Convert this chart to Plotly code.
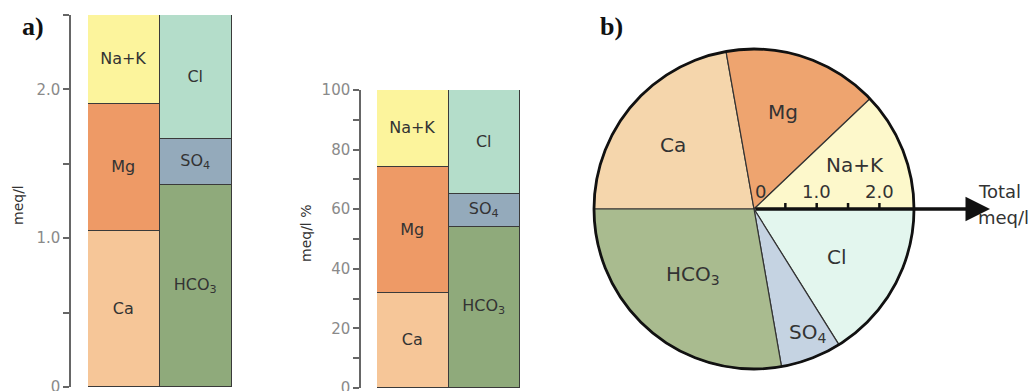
import plotly.graph_objects as go

W, H = 1035, 391
def px(x): return x / W
def py(y): return 1 - y / H

# ---------------- data ----------------
cation_names = ["Ca", "Mg", "Na+K"]
anion_names = ["HCO<sub>3</sub>", "SO<sub>4</sub>", "Cl"]
cation_meq = [1.05, 0.85, 0.60]
anion_meq = [1.36, 0.31, 0.83]
cation_pct = [32, 42, 26]
anion_pct = [54, 11, 35]
# pie: each half (cations top, anions bottom) read as shares of 100,
# listed clockwise starting at 9 o'clock
pie_names = ["Ca", "Mg", "Na+K", "Cl", "SO<sub>4</sub>", "HCO<sub>3</sub>"]
pie_values = [44.4, 31.4, 24.2, 32.2, 12.3, 55.5]
meq_ticks = [0, 0.5, 1.0, 1.5, 2.0, 2.5]
meq_ticktext = ["0", "", "1.0", "", "2.0", ""]
pct_ticks = [0, 10, 20, 30, 40, 50, 60, 70, 80, 90, 100]
pct_ticktext = ["0", "", "20", "", "40", "", "60", "", "80", "", "100"]
total_ticks = [0.5, 1.0, 1.5, 2.0]
total_label_vals = [0, 1.0, 2.0]
total_label_text = ["0", "1.0", "2.0"]

# ---------------- styles ----------------
bar_cat_colors = ["#f6c698", "#ee9a66", "#fcf49c"]
bar_an_colors = ["#8faa7b", "#94aabb", "#b4ddca"]
pie_colors = ["#f5d6ac", "#eea46f", "#fdf8cb", "#e3f6ee", "#c5d3e2", "#a9bb8f"]
FONT = "DejaVu Sans"
TXT = "#333333"
EDGE = "#3a3a3a"

fig = go.Figure()

def add_stack(names, vals, colors, xpos, xa, ya):
    for n, v, c in zip(names, vals, colors):
        fig.add_trace(go.Bar(
            x=[xpos], y=[v], width=1, text=[n], textposition="inside",
            insidetextanchor="middle", textangle=0,
            textfont=dict(family=FONT, size=16, color=TXT),
            marker=dict(color=c, line=dict(color=EDGE, width=1.5)),
            xaxis=xa, yaxis=ya, hoverinfo="skip", showlegend=False))

add_stack(cation_names, cation_meq, bar_cat_colors, 0, "x", "y")
add_stack(anion_names, anion_meq, bar_an_colors, 1, "x", "y")
add_stack(cation_names, cation_pct, bar_cat_colors, 0, "x2", "y2")
add_stack(anion_names, anion_pct, bar_an_colors, 1, "x2", "y2")

fig.add_trace(go.Pie(
    labels=pie_names, values=pie_values, sort=False, direction="clockwise",
    rotation=270, textinfo="none", hoverinfo="skip", automargin=False,
    marker=dict(colors=pie_colors, line=dict(color="#333333", width=1.2)),
    domain=dict(x=[px(594), px(914)], y=[py(369), py(49)]), showlegend=False))

# invisible trace to carry the "Total meq/l" axis
fig.add_trace(go.Scatter(x=[0], y=[0], mode="markers", marker=dict(opacity=0),
                         xaxis="x3", yaxis="y3", hoverinfo="skip", showlegend=False))

axis_common = dict(showgrid=False, zeroline=False, automargin=False)
yax_style = dict(showline=True, linecolor="#666", linewidth=1.5, ticks="outside", ticklen=6,
                 tickcolor="#666", tickwidth=1.5, ticklabeloverflow="allow",
                 tickfont=dict(family=FONT, size=15, color="#8a8a8a"))
fig.update_layout(
    width=W, height=H, margin=dict(l=0, r=0, t=0, b=0, pad=0, autoexpand=False),
    paper_bgcolor="white", plot_bgcolor="rgba(0,0,0,0)",
    barmode="stack", bargap=0, showlegend=False,
    xaxis=dict(domain=[px(88), px(232)], range=[-0.5, 1.5], visible=False, **axis_common),
    yaxis=dict(domain=[py(387), py(15)], range=[0, 2.5], anchor="free", position=px(70),
               tickvals=meq_ticks, ticktext=meq_ticktext, **yax_style, **axis_common),
    xaxis2=dict(domain=[px(377), px(520)], range=[-0.5, 1.5], visible=False, **axis_common),
    yaxis2=dict(domain=[py(388), py(90)], range=[0, 100], anchor="free", position=px(360),
                tickvals=pct_ticks, ticktext=pct_ticktext, **yax_style, **axis_common),
    xaxis3=dict(domain=[px(754), px(990)], range=[0, 236 / 62.7], anchor="free",
                position=py(209), visible=False, **axis_common),
    yaxis3=dict(domain=[0.0, 0.01], range=[0, 1], visible=False, **axis_common),
)

# outer rim of pie
fig.add_shape(type="circle", xref="paper", yref="paper",
              x0=px(594), x1=px(914), y0=py(369), y1=py(49),
              line=dict(color="#111", width=2.8), layer="above")
# ticks of the total-meq/l scale (drawn above the pie)
for t in total_ticks:
    fig.add_shape(type="line", xref="x3", yref="paper", x0=t, x1=t,
                  y0=py(209), y1=py(203), line=dict(color="#111", width=2.5), layer="above")

ann = []
def label(x, y, text, size=20, **kw):
    d = dict(x=px(x), y=py(y), xref="paper", yref="paper", text=text, showarrow=False,
             xanchor="center", yanchor="middle",
             font=dict(family=FONT, size=size, color=TXT))
    d.update(kw)
    ann.append(d)

# pie labels
pie_label_pos = [(673, 145), (783, 112), (855, 165), (837, 257), (807, 333), (693, 275)]
for n, (x, y) in zip(pie_names, pie_label_pos):
    label(x, y, n)

# total arrow
ann.append(dict(x=236 / 62.7, y=py(209), xref="x3", yref="paper", ax=0, axref="x3",
                ay=0, ayref="pixel", text="", showarrow=True, arrowhead=2, arrowsize=1.4,
                arrowwidth=3.5, arrowcolor="#111", standoff=0, startstandoff=0))
for v, t in zip(total_label_vals, total_label_text):
    ann.append(dict(x=v, y=py(191), xref="x3", yref="paper", text=t, showarrow=False,
                    xanchor="center", yanchor="middle", xshift=6 if v == 0 else 0,
                    font=dict(family=FONT, size=18, color=TXT)))
label(976, 191, "Total", size=18, xanchor="left")
label(976, 217, "meq/l", size=18, xanchor="left")

# panel letters and axis titles
label(33, 27, "<b>a)</b>", font=dict(family="Liberation Serif", size=26, color="#111"))
label(611, 27, "<b>b)</b>", font=dict(family="Liberation Serif", size=26, color="#111"))
label(18, 205, "meq/l", size=14, textangle=-90)
label(306, 233, "meq/l %", size=14, textangle=-90)

fig.update_layout(annotations=ann)
fig.write_html("out.html", config={"displayModeBar": False},
               post_script="document.body.style.margin='0';")
